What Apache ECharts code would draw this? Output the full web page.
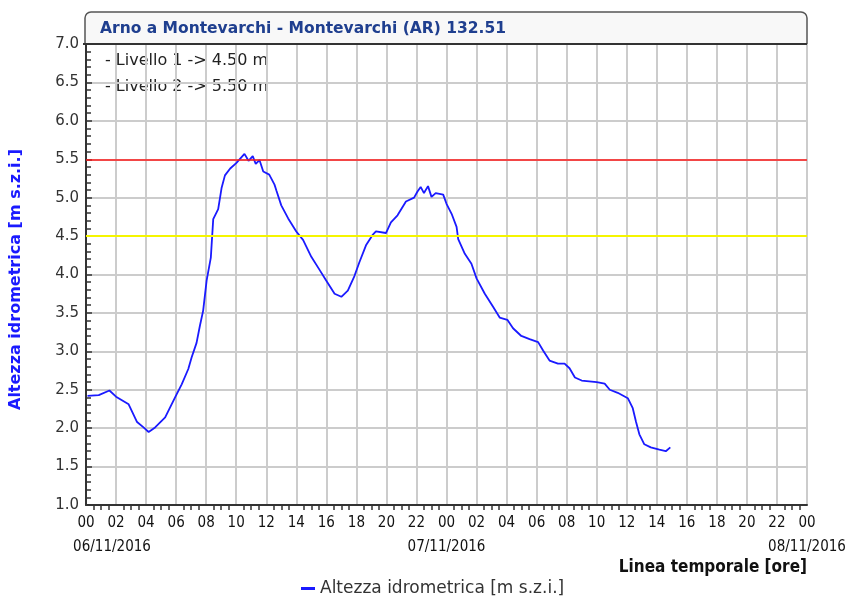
<!DOCTYPE html>
<html>
<head>
<meta charset="utf-8">
<script src="https://cdn.jsdelivr.net/npm/echarts@6/dist/echarts.min.js"></script>
<style>
  html, body { margin: 0; padding: 0; background: #fff; }
  #chart { width: 855px; height: 604px; }
</style>
</head>
<body>
<div id="chart"></div>
<script>
// hours since 06/11/2016 00:00
const hours = [
  0.1, 0.85, 1.56, 2.0, 2.84, 3.4, 3.83, 4.17, 4.6, 5.27, 5.93, 6.37, 6.81, 7.03,
  7.36, 7.58, 7.8, 8.03, 8.31, 8.47, 8.8, 9.03, 9.25, 9.6, 10.0, 10.55, 10.82, 11.1,
  11.3, 11.55, 11.8, 12.2, 12.55, 12.68, 13.0, 13.46, 14.0, 14.45, 15.0, 15.55, 16.0,
  16.55, 17.0, 17.43, 17.87, 18.2, 18.64, 19.1, 19.3, 19.97, 20.3, 20.74, 21.3, 21.84,
  22.07, 22.28, 22.5, 22.77, 23.0, 23.28, 23.78, 24.0, 24.34, 24.67, 24.78, 25.22,
  25.66, 26.0, 26.55, 27.1, 27.54, 28.05, 28.43, 28.98, 29.53, 30.1, 30.43, 30.86,
  31.42, 31.86, 32.19, 32.55, 33.0, 34.0, 34.53, 34.87, 35.4, 36.07, 36.4, 36.62,
  36.84, 37.17, 37.6, 38.17, 38.6, 38.9
];
// water level [m s.z.i.]
const levels = [
  2.42, 2.43, 2.49, 2.41, 2.31, 2.08, 2.01, 1.95, 2.01, 2.14, 2.40, 2.57, 2.77, 2.92,
  3.11, 3.33, 3.53, 3.92, 4.22, 4.72, 4.85, 5.13, 5.29, 5.38, 5.45, 5.57, 5.48, 5.54,
  5.44, 5.49, 5.34, 5.30, 5.17, 5.09, 4.90, 4.73, 4.56, 4.45, 4.23, 4.06, 3.92,
  3.75, 3.71, 3.79, 3.98, 4.16, 4.38, 4.52, 4.56, 4.54, 4.68, 4.77, 4.95, 5.00,
  5.08, 5.14, 5.06, 5.15, 5.01, 5.06, 5.04, 4.92, 4.79, 4.62, 4.46, 4.27,
  4.14, 3.95, 3.75, 3.58, 3.44, 3.41, 3.30, 3.20, 3.16, 3.12, 3.01, 2.88,
  2.84, 2.84, 2.78, 2.66, 2.62, 2.60, 2.58, 2.50, 2.46, 2.39, 2.26, 2.08,
  1.92, 1.79, 1.75, 1.72, 1.70, 1.75
];
const thresholds = [4.5, 5.5];
const thresholdLabels = ['- Livello 1 -> 4.50 m', '- Livello 2 -> 5.50 m'];
const dateLabels = ['06/11/2016', '07/11/2016', '08/11/2016'];
const titleText = 'Arno a Montevarchi - Montevarchi (AR) 132.51';
const seriesName = 'Altezza idrometrica [m s.z.i.]';

const chart = echarts.init(document.getElementById('chart'));
const narrow = "'Liberation Sans Narrow', 'DejaVu Sans Condensed', 'Liberation Sans', sans-serif";

const option = {
  animation: false,
  title: {
    text: titleText,
    left: 95,
    top: 16,
    textStyle: { color: '#1f3f8f', fontSize: 15.5, fontWeight: 'bold', fontFamily: 'DejaVu Sans' }
  },
  graphic: [
    {
      type: 'rect', z: -1,
      shape: { x: 85, y: 12, width: 722, height: 32, r: [6, 6, 0, 0] },
      style: { fill: '#f8f8f8', stroke: '#555', lineWidth: 1.5 }
    },
    {
      type: 'line', z: 10,
      shape: { x1: 83, y1: 44, x2: 807, y2: 44 },
      style: { stroke: '#333', lineWidth: 2 }
    },
    {
      type: 'text', left: 105, top: 48,
      style: {
        text: thresholdLabels.join('\n'),
        fill: '#222', fontSize: 16, lineHeight: 26, fontFamily: 'DejaVu Sans'
      }
    }
  ],
  legend: {
    bottom: 2,
    left: 296,
    itemWidth: 14,
    itemHeight: 3,
    itemGap: 6,
    icon: 'rect',
    textStyle: { color: '#333', fontSize: 17, fontFamily: 'DejaVu Sans' },
    data: [seriesName]
  },
  grid: { left: 83, right: 48, top: 44, bottom: 99 },
  xAxis: [
    {
      type: 'value',
      min: 0,
      max: 48,
      interval: 2,
      name: 'Linea temporale [ore]',
      nameLocation: 'end',
      nameGap: 0,
      nameTextStyle: {
        color: '#111', fontSize: 17, fontWeight: 'bold', fontFamily: narrow,
        align: 'right', verticalAlign: 'top', padding: [54, 0, 0, 0]
      },
      axisLine: { lineStyle: { color: '#333', width: 2 } },
      axisTick: { show: false },
      minorTick: { show: true, splitNumber: 4, length: 5, lineStyle: { color: '#333', width: 1.5 } },
      splitLine: { lineStyle: { color: '#cccccc', width: 2 } },
      axisLabel: {
        color: '#111',
        fontSize: 15,
        fontFamily: narrow,
        lineHeight: 24,
        margin: 6,
        showMinLabel: true,
        showMaxLabel: true,
        formatter: v => String(v % 24).padStart(2, '0')
      }
    },
    {
      // day labels under the hour labels
      type: 'value',
      position: 'bottom',
      min: 0,
      max: 48,
      interval: 24,
      axisLine: { show: false },
      axisTick: { show: false },
      splitLine: { show: false },
      axisLabel: {
        color: '#111',
        fontSize: 15,
        fontFamily: narrow,
        lineHeight: 24,
        margin: 30,
        showMinLabel: true,
        showMaxLabel: true,
        formatter: v => v === 0 ? '{first|' + dateLabels[0] + '}' : dateLabels[v / 24],
        rich: {
          first: { fontSize: 15, fontFamily: narrow, color: '#111', padding: [0, 0, 0, 52] }
        }
      }
    }
  ],
  yAxis: {
    type: 'value',
    min: 1,
    max: 7,
    interval: 0.5,
    name: seriesName,
    nameLocation: 'middle',
    nameGap: 62,
    nameTextStyle: {
      color: '#1a1aff', fontSize: 16, fontWeight: 'bold', fontFamily: 'DejaVu Sans',
      padding: [0, 10, 0, 0]
    },
    axisLine: { show: true, lineStyle: { color: '#333', width: 2 } },
    axisTick: { show: true, inside: true, length: 6, lineStyle: { color: '#333', width: 1.5 } },
    minorTick: { show: true, splitNumber: 5, length: 5, lineStyle: { color: '#333', width: 1.5 } },
    splitLine: { lineStyle: { color: '#cccccc', width: 2 } },
    axisLabel: {
      color: '#333', fontSize: 15, fontFamily: 'DejaVu Sans', margin: 7,
      formatter: v => v.toFixed(1)
    }
  },
  series: [
    {
      name: seriesName,
      type: 'line',
      showSymbol: false,
      symbol: 'none',
      data: hours.map((h, i) => [h, levels[i]]),
      lineStyle: { color: '#1a1aff', width: 1.8 },
      itemStyle: { color: '#1a1aff' },
      markLine: {
        silent: true,
        symbol: 'none',
        label: { show: false },
        data: [
          { yAxis: thresholds[0], lineStyle: { color: '#f5f500', width: 2, type: 'solid' } },
          { yAxis: thresholds[1], lineStyle: { color: '#ff1a1a', width: 1.5, type: 'solid' } }
        ]
      }
    }
  ]
};
chart.setOption(option);
</script>
</body>
</html>
